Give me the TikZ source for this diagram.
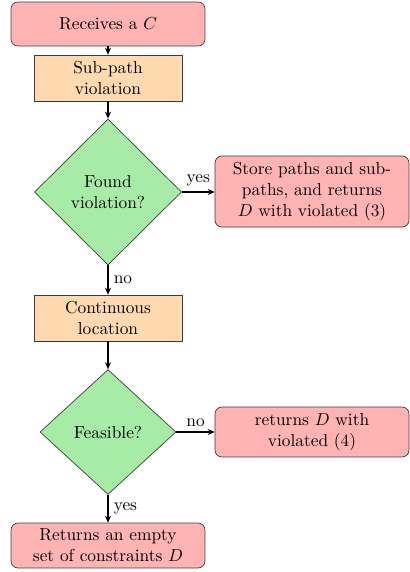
\documentclass[tikz,border=0pt]{standalone}
\usetikzlibrary{shapes.geometric,arrows.meta}
\definecolor{boxred}{RGB}{255,179,179}
\definecolor{boxorange}{RGB}{255,217,176}
\definecolor{boxgreen}{RGB}{166,235,166}
\definecolor{edge}{RGB}{60,60,60}
\begin{document}
\begin{tikzpicture}[x=0.5764pt,y=-0.5764pt,
  redbox/.style={draw=edge,fill=boxred,rounded corners=4pt,align=center,minimum width=111.8pt,inner sep=2pt},
  procbox/.style={draw=edge,fill=boxorange,align=center,minimum width=85.3pt,minimum height=26.5pt,inner sep=2pt},
  decision/.style={draw=edge,fill=boxgreen,diamond,align=center,inner sep=0pt},
  conn/.style={-{Stealth[length=4pt,width=3.5pt]},line width=0.7pt,black},
  lbl/.style={inner sep=3pt}]
\useasboundingbox (0,0) rectangle (410,572);
\node[redbox,minimum height=25.4pt] (recv) at (108,24) {Receives a $C$};
\node[procbox] (sub) at (108,78) {Sub-path\\violation};
\node[decision,minimum width=84.7pt,minimum height=84.2pt] (found) at (108,192) {Found\\violation?};
\node[redbox,minimum height=41pt] (store) at (312,191.5) {Store paths and sub-\\paths, and returns\\$D$ with violated (3)};
\node[procbox] (cont) at (108,318) {Continuous\\location};
\node[decision,minimum width=78.4pt,minimum height=72pt] (feas) at (108,432) {Feasible?};
\node[redbox,minimum height=28.8pt] (ret4) at (312,432) {returns $D$ with\\violated (4)};
\node[redbox,minimum height=25.9pt] (empty) at (108,545.5) {Returns an empty\\set of constraints $D$};
\draw[conn] (recv) -- (sub);
\draw[conn] (sub) -- (found);
\draw[conn] (found.east) -- node[lbl,above] {yes} (found.east -| store.west);
\draw[conn] (found) -- node[lbl,right] {no} (cont);
\draw[conn] (cont) -- (feas);
\draw[conn] (feas.east) -- node[lbl,above] {no} (feas.east -| ret4.west);
\draw[conn] (feas) -- node[lbl,right] {yes} (empty);
\end{tikzpicture}
\end{document}
